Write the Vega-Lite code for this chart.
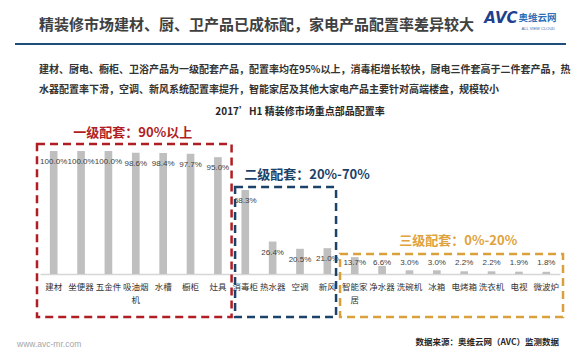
{
  "$schema": "https://vega.github.io/schema/vega-lite/v6.json",
  "autosize": {"type": "none"},
  "padding": {"left": 40, "right": 20, "top": 151, "bottom": 86},
  "width": 520,
  "height": 123,
  "background": "#ffffff",
  "config": {"view": {"stroke": null}, "font": "Noto Sans CJK SC"},
  "datasets": {
    "rates": [
      {"item": "建材", "rate": 1.000, "tier": "一级配套"},
      {"item": "坐便器", "rate": 1.000, "tier": "一级配套"},
      {"item": "五金件", "rate": 1.000, "tier": "一级配套"},
      {"item": "吸油烟机", "rate": 0.986, "tier": "一级配套"},
      {"item": "水槽", "rate": 0.984, "tier": "一级配套"},
      {"item": "橱柜", "rate": 0.977, "tier": "一级配套"},
      {"item": "灶具", "rate": 0.950, "tier": "一级配套"},
      {"item": "消毒柜", "rate": 0.683, "tier": "二级配套"},
      {"item": "热水器", "rate": 0.264, "tier": "二级配套"},
      {"item": "空调", "rate": 0.205, "tier": "二级配套"},
      {"item": "新风", "rate": 0.210, "tier": "二级配套"},
      {"item": "智能家居", "rate": 0.137, "tier": "三级配套"},
      {"item": "净水器", "rate": 0.066, "tier": "三级配套"},
      {"item": "洗碗机", "rate": 0.030, "tier": "三级配套"},
      {"item": "冰箱", "rate": 0.030, "tier": "三级配套"},
      {"item": "电烤箱", "rate": 0.022, "tier": "三级配套"},
      {"item": "洗衣机", "rate": 0.022, "tier": "三级配套"},
      {"item": "电视", "rate": 0.019, "tier": "三级配套"},
      {"item": "微波炉", "rate": 0.018, "tier": "三级配套"}
    ]
  },
  "data": {"name": "rates"},
  "layer": [
    {
      "mark": {"type": "bar", "color": "#BFBFBF", "width": {"band": 0.28}},
      "encoding": {
        "x": {
          "field": "item", "type": "nominal", "sort": null,
          "scale": {"domain": ["建材","坐便器","五金件","吸油烟机","水槽","橱柜","灶具","消毒柜","热水器","空调","新风","智能家居","净水器","洗碗机","冰箱","电烤箱","洗衣机","电视","微波炉"], "paddingInner": 0, "paddingOuter": 0},
          "axis": {
            "title": null, "labelAngle": 0, "ticks": false,
            "domainColor": "#D6D6D6", "domainWidth": 1.5,
            "labelFont": "Noto Sans CJK SC", "labelFontSize": 8.5, "labelColor": "#333333",
            "labelPadding": 8, "labelLineHeight": 13,
            "labelExpr": "datum.value == '吸油烟机' ? ['吸油烟', '机'] : datum.value == '智能家居' ? ['智能家', '居'] : datum.value"
          }
        },
        "y": {"field": "rate", "type": "quantitative", "scale": {"domain": [0, 1], "nice": false}, "axis": null}
      }
    },
    {
      "transform": [{"filter": "datum.tier != '三级配套'"}],
      "mark": {"type": "text", "font": "Liberation Sans", "fontSize": 8, "color": "#404040", "baseline": "middle", "dy": 11},
      "encoding": {
        "x": {"field": "item", "type": "nominal", "sort": null},
        "y": {"field": "rate", "type": "quantitative"},
        "text": {"field": "rate", "type": "quantitative", "format": ".1%"}
      }
    },
    {
      "transform": [{"filter": "datum.tier == '三级配套'"}],
      "mark": {"type": "text", "font": "Liberation Sans", "fontSize": 8, "color": "#404040", "baseline": "middle"},
      "encoding": {
        "x": {"field": "item", "type": "nominal", "sort": null},
        "y": {"datum": 0.089, "type": "quantitative"},
        "text": {"field": "rate", "type": "quantitative", "format": ".1%"}
      }
    },
    {
      "data": {"values": [{}]},
      "mark": {"type": "rect", "fill": "transparent", "stroke": "#B01E24", "strokeWidth": 2.5, "strokeDash": [8, 5], "xOffset": -3},
      "encoding": {
        "x": {"datum": "建材", "type": "nominal", "bandPosition": 0},
        "x2": {"datum": "灶具", "bandPosition": 1},
        "y": {"datum": 1.057, "type": "quantitative"},
        "y2": {"datum": -0.35}
      }
    },
    {
      "data": {"values": [{}]},
      "mark": {"type": "rect", "fill": "transparent", "stroke": "#1B4268", "strokeWidth": 2.5, "strokeDash": [8, 5], "xOffset": 3.5, "x2Offset": -5},
      "encoding": {
        "x": {"datum": "消毒柜", "type": "nominal", "bandPosition": 0},
        "x2": {"datum": "新风", "bandPosition": 1},
        "y": {"datum": 0.707, "type": "quantitative"},
        "y2": {"datum": -0.35}
      }
    },
    {
      "data": {"values": [{}]},
      "mark": {"type": "rect", "fill": "transparent", "stroke": "#D9A13B", "strokeWidth": 2.5, "strokeDash": [8, 5], "xOffset": -1, "x2Offset": 3},
      "encoding": {
        "x": {"datum": "智能家居", "type": "nominal", "bandPosition": 0},
        "x2": {"datum": "微波炉", "bandPosition": 1},
        "y": {"datum": 0.163, "type": "quantitative"},
        "y2": {"datum": -0.35}
      }
    },
    {
      "data": {"values": [{}]},
      "mark": {"type": "text", "text": "一级配套：90%以上", "fontSize": 13, "fontWeight": "bold", "color": "#B01E24", "baseline": "middle", "dx": -3},
      "encoding": {
        "x": {"datum": "吸油烟机", "type": "nominal"},
        "y": {"datum": 1.146, "type": "quantitative"}
      }
    },
    {
      "data": {"values": [{}]},
      "mark": {"type": "text", "text": "二级配套：20%-70%", "fontSize": 13, "fontWeight": "bold", "color": "#1B4268", "baseline": "middle", "dx": 7},
      "encoding": {
        "x": {"datum": "空调", "type": "nominal"},
        "y": {"datum": 0.805, "type": "quantitative"}
      }
    },
    {
      "data": {"values": [{}]},
      "mark": {"type": "text", "text": "三级配套：0%-20%", "fontSize": 13, "fontWeight": "bold", "color": "#E0A23C", "baseline": "middle", "dx": -6},
      "encoding": {
        "x": {"datum": "电烤箱", "type": "nominal"},
        "y": {"datum": 0.271, "type": "quantitative"}
      }
    },
    {
      "data": {"values": [{}]},
      "mark": {"type": "text", "text": "2017’H1 精装修市场重点部品配置率", "fontSize": 10, "fontWeight": "bold", "color": "#262626", "baseline": "middle"},
      "encoding": {
        "x": {"datum": "空调", "type": "nominal"},
        "y": {"datum": 1.317, "type": "quantitative"}
      }
    },
    {
      "data": {"values": [{}]},
      "mark": {"type": "text", "text": "精装修市场建材、厨、卫产品已成标配，家电产品配置率差异较大", "fontSize": 15, "fontWeight": "bold", "color": "#404040", "baseline": "middle", "align": "left", "dx": -1},
      "encoding": {
        "x": {"datum": "建材", "type": "nominal", "bandPosition": 0},
        "y": {"datum": 2.024, "type": "quantitative"}
      }
    },
    {
      "data": {"values": [{}]},
      "mark": {"type": "rule", "color": "#1F4E79", "strokeWidth": 2, "xOffset": -25, "x2Offset": 6},
      "encoding": {
        "x": {"datum": "建材", "type": "nominal", "bandPosition": 0},
        "x2": {"datum": "微波炉", "bandPosition": 1},
        "y": {"datum": 1.870, "type": "quantitative"}
      }
    },
    {
      "data": {"values": [{}]},
      "mark": {"type": "text", "text": "建材、厨电、橱柜、卫浴产品为一级配套产品，配置率均在95%以上，消毒柜增长较快，厨电三件套高于二件套产品，热", "fontSize": 10, "fontWeight": "bold", "color": "#333333", "baseline": "middle", "align": "left", "dx": -1},
      "encoding": {
        "x": {"datum": "建材", "type": "nominal", "bandPosition": 0},
        "y": {"datum": 1.656, "type": "quantitative"}
      }
    },
    {
      "data": {"values": [{}]},
      "mark": {"type": "text", "text": "水器配置率下滑，空调、新风系统配置率提升，智能家居及其他大家电产品主要针对高端楼盘，规模较小", "fontSize": 10, "fontWeight": "bold", "color": "#333333", "baseline": "middle", "align": "left", "dx": -1},
      "encoding": {
        "x": {"datum": "建材", "type": "nominal", "bandPosition": 0},
        "y": {"datum": 1.496, "type": "quantitative"}
      }
    },
    {
      "data": {"values": [{}]},
      "mark": {"type": "text", "text": "AVC", "font": "DejaVu Sans", "fontSize": 15, "fontWeight": "bold", "fontStyle": "italic", "color": "#1F3F8F", "baseline": "middle", "align": "right"},
      "encoding": {
        "x": {"datum": "电视", "type": "nominal", "bandPosition": 0.45},
        "y": {"datum": 2.081, "type": "quantitative"}
      }
    },
    {
      "data": {"values": [{}]},
      "mark": {"type": "text", "text": "奥维云网", "fontSize": 9.5, "fontWeight": "bold", "color": "#2E6FB6", "baseline": "middle", "align": "left", "dx": 1},
      "encoding": {
        "x": {"datum": "电视", "type": "nominal", "bandPosition": 0.45},
        "y": {"datum": 2.081, "type": "quantitative"}
      }
    },
    {
      "data": {"values": [{}]},
      "mark": {"type": "text", "text": "ALL VIEW CLOUD", "font": "Liberation Sans", "fontSize": 4, "color": "#2E6FB6", "baseline": "middle", "align": "left", "dx": 4},
      "encoding": {
        "x": {"datum": "电视", "type": "nominal", "bandPosition": 0.45},
        "y": {"datum": 1.992, "type": "quantitative"}
      }
    },
    {
      "data": {"values": [{}]},
      "mark": {"type": "text", "text": "www.avc-mr.com", "font": "Liberation Sans", "fontSize": 8.5, "color": "#A6A6A6", "baseline": "middle", "align": "left", "dx": -23},
      "encoding": {
        "x": {"datum": "建材", "type": "nominal", "bandPosition": 0},
        "y": {"datum": -0.569, "type": "quantitative"}
      }
    },
    {
      "data": {"values": [{}]},
      "mark": {"type": "text", "text": "数据来源：奥维云网（AVC）监测数据", "fontSize": 8.5, "fontWeight": "bold", "color": "#262626", "baseline": "middle", "align": "right", "dx": -1},
      "encoding": {
        "x": {"datum": "微波炉", "type": "nominal", "bandPosition": 1},
        "y": {"datum": -0.553, "type": "quantitative"}
      }
    }
  ]
}
